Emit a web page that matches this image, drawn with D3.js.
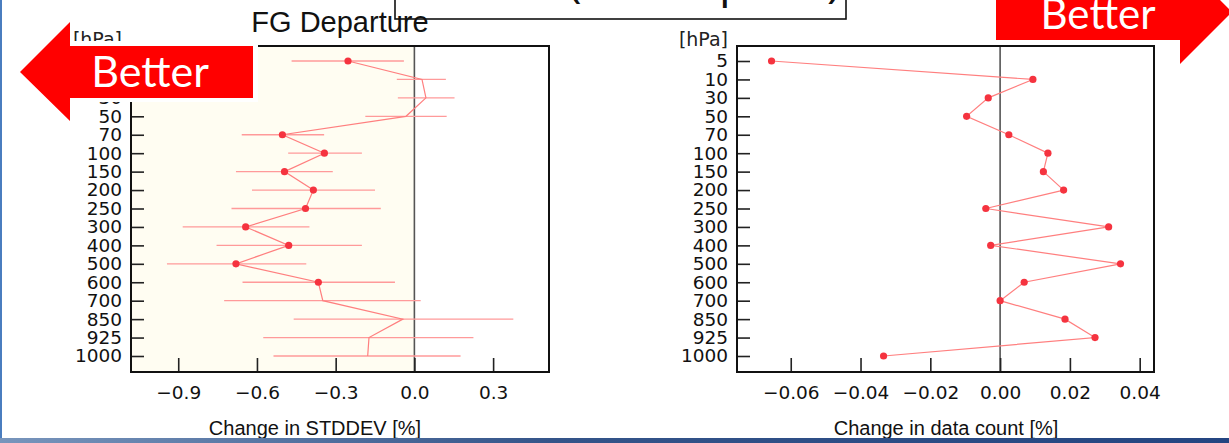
<!DOCTYPE html>
<html><head><meta charset="utf-8">
<script src="https://cdn.jsdelivr.net/npm/d3@7"></script>
<style>
html,body{margin:0;padding:0;background:#fff;}
svg{display:block;}
</style></head>
<body>
<svg id="c" width="1229" height="443"></svg>
<script>
// ---- data ----
const levels = ["5","10","30","50","70","100","150","200","250","300","400","500","600","700","850","925","1000"];
const stdMean = [-0.253, 0.029, 0.044, -0.032, -0.503, -0.343, -0.495, -0.385, -0.415, -0.643, -0.479, -0.680, -0.366, -0.349, -0.044, -0.173, -0.178];
const stdLow  = [-0.468, -0.067, -0.063, -0.187, -0.658, -0.481, -0.680, -0.619, -0.697, -0.883, -0.754, -0.943, -0.655, -0.725, -0.460, -0.576, -0.537];
const stdHigh = [-0.040, 0.120, 0.153, 0.123, -0.344, -0.200, -0.311, -0.150, -0.128, -0.400, -0.200, -0.412, -0.074, 0.024, 0.377, 0.225, 0.176];
const countChange = [-0.0655, 0.0094, -0.0034, -0.0096, 0.0025, 0.0137, 0.0124, 0.0182, -0.0041, 0.0311, -0.0027, 0.0345, 0.0069, 0.0000, 0.0186, 0.0272, -0.0334];
const stdTicks = [-0.9, -0.6, -0.3, 0.0, 0.3];
const stdTickLabels = ["\u22120.9", "\u22120.6", "\u22120.3", "0.0", "0.3"];
const countTicks = [-0.06, -0.04, -0.02, 0.00, 0.02, 0.04];
const countTickLabels = ["\u22120.06", "\u22120.04", "\u22120.02", "0.00", "0.02", "0.04"];
const plotTitle = "FG Departure";
const xTitleLeft = "Change in STDDEV [%]";
const xTitleRight = "Change in data count [%]";
const yUnit = "[hPa]";
const arrowText = "Better";
const headerText = "(wind speed)";

const svg = d3.select("#c");
const defs = svg.append("defs");
const grad = defs.append("linearGradient").attr("id","bar").attr("x1","0").attr("x2","1").attr("y1","0").attr("y2","0");
grad.append("stop").attr("offset","0").attr("stop-color","#7895bc");
grad.append("stop").attr("offset","0.45").attr("stop-color","#345489");
grad.append("stop").attr("offset","1").attr("stop-color","#244581");
// the slide header is cropped by the picture edge: only the descenders show
const clip = defs.append("clipPath").attr("id","hdrclip");
[[560, 46], [712, 36], [822, 30]].forEach(([cx, cw]) =>
  clip.append("rect").attr("x", cx).attr("y", 0).attr("width", cw).attr("height", 18));

const plotTop = 46, plotBottom = 372;
const tickFont = "DejaVu Sans, sans-serif";
const titleFont = "Liberation Sans, Arial, sans-serif";
const lineCol = "#ff7f7f", barCol = "#ff9a9a", dotCol = "#f5333f";

function panel(cfg){
  const g = svg.append("g");
  const x = d3.scaleLinear().domain(cfg.domain).range([cfg.left, cfg.right]);
  const y = d3.scalePoint().domain(levels).range([61, 356]);
  if (cfg.shade) {
    g.append("rect").attr("x", cfg.left).attr("y", plotTop).attr("width", x(0)-cfg.left).attr("height", plotBottom-plotTop).attr("fill", "#fffdf2");
  }
  g.append("line").attr("x1", x(0)).attr("x2", x(0)).attr("y1", plotTop).attr("y2", plotBottom).attr("stroke", "#555").attr("stroke-width", 1.6);
  const ya = g.append("g").attr("transform", `translate(${cfg.left},0)`)
    .call(d3.axisLeft(y).tickSizeInner(-13).tickSizeOuter(0).tickPadding(9));
  const xa = g.append("g").attr("transform", `translate(0,${plotBottom})`)
    .call(d3.axisBottom(x).tickValues(cfg.ticks).tickFormat((d,i)=>cfg.tickLabels[i]).tickSizeInner(-14).tickSizeOuter(0).tickPadding(14));
  [ya, xa].forEach(a => {
    a.select(".domain").remove();
    a.selectAll(".tick line").attr("stroke", "#222").attr("stroke-width", 1.6);
    a.selectAll(".tick text").attr("font-family", tickFont).attr("font-size", 18.5).attr("fill", "#111");
  });
  if (cfg.low) {
    g.append("g").selectAll("line").data(levels).join("line")
      .attr("x1", (d,i)=>x(cfg.low[i])).attr("x2", (d,i)=>x(cfg.high[i]))
      .attr("y1", d=>y(d)).attr("y2", d=>y(d))
      .attr("stroke", barCol).attr("stroke-width", 1.3);
  }
  const line = d3.line().x((d,i)=>x(cfg.values[i])).y(d=>y(d));
  g.append("path").datum(levels).attr("d", line).attr("fill","none").attr("stroke", lineCol).attr("stroke-width", 1.2);
  const marked = levels.filter((d,i)=> !cfg.low || cfg.low[i]*cfg.high[i] > 0);
  g.append("g").selectAll("circle").data(marked).join("circle")
    .attr("cx", d=>x(cfg.values[levels.indexOf(d)])).attr("cy", d=>y(d)).attr("r", 3.6).attr("fill", dotCol);
  g.append("rect").attr("x", cfg.left).attr("y", plotTop).attr("width", cfg.right-cfg.left).attr("height", plotBottom-plotTop)
    .attr("fill","none").attr("stroke","#111").attr("stroke-width", 2);
  g.append("text").attr("x", cfg.left-9).attr("y", 46).attr("text-anchor","end")
    .attr("font-family", tickFont).attr("font-size", 19).attr("fill","#222").text(yUnit);
  g.append("text").attr("x", cfg.titleX).attr("y", 435).attr("text-anchor","middle")
    .attr("font-family", titleFont).attr("font-size", 20).attr("fill","#111").text(cfg.xTitle);
  return g;
}

panel({left:131, right:549, domain:[-1.08, 0.513], ticks:stdTicks, tickLabels:stdTickLabels,
       values:stdMean, low:stdLow, high:stdHigh, shade:true, xTitle:xTitleLeft, titleX:315});
panel({left:737, right:1154, domain:[-0.0754, 0.0441], ticks:countTicks, tickLabels:countTickLabels,
       values:countChange, xTitle:xTitleRight, titleX:946});

svg.append("text").attr("x", 340).attr("y", 32).attr("text-anchor","middle")
  .attr("font-family", titleFont).attr("font-size", 29).attr("fill","#111").text(plotTitle);

svg.append("g").attr("clip-path","url(#hdrclip)")
  .append("text").attr("x", 568).attr("y", -3).attr("font-family","Open Sans, sans-serif").attr("font-size", 46).attr("fill","#111").text(headerText);
svg.append("rect").attr("x", 395).attr("y", -5).attr("width", 451).attr("height", 24).attr("fill","none").attr("stroke","#111").attr("stroke-width", 1.6);

svg.append("rect").attr("x", 14).attr("y", 41).attr("width", 244).attr("height", 61).attr("fill","#fff");
svg.append("path").attr("d","M20,72 L70,22 L70,46 L253,46 L253,98 L70,98 L70,121 Z").attr("fill","#ff0000");
svg.append("text").attr("x", 150).attr("y", 87).attr("text-anchor","middle").attr("font-family","Lato, sans-serif")
  .attr("font-size", 43).attr("fill","#fff").text(arrowText);

svg.append("path").attr("d","M996,-16 L1180,-16 L1180,-40 L1232,12 L1180,64 L1180,40 L996,40 Z").attr("fill","#ff0000");
svg.append("text").attr("x", 1098).attr("y", 29).attr("text-anchor","middle").attr("font-family","Lato, sans-serif")
  .attr("font-size", 42).attr("fill","#fff").text(arrowText);

svg.append("rect").attr("x", 0).attr("y", 0).attr("width", 2).attr("height", 443).attr("fill", "#4a7dbf");
svg.append("rect").attr("x", 0).attr("y", 438).attr("width", 1229).attr("height", 5).attr("fill", "url(#bar)");
</script>
</body></html>
